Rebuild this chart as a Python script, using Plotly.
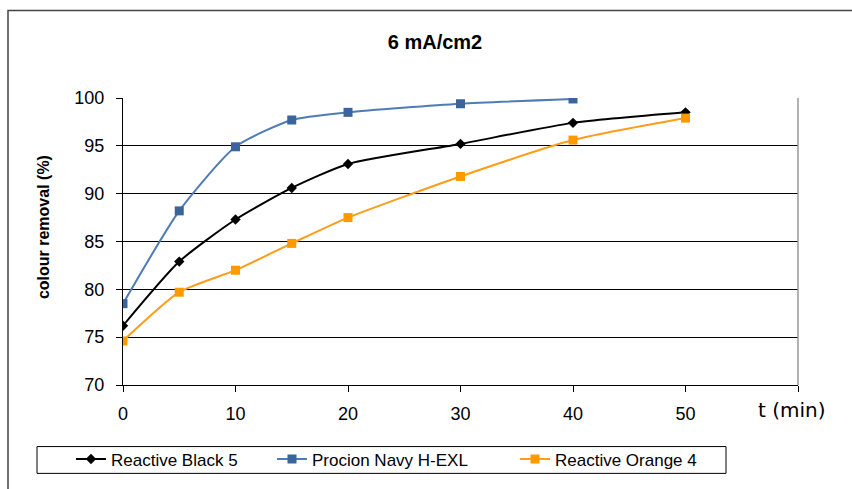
import plotly.graph_objects as go

t_black = [0, 5, 10, 15, 20, 30, 40, 50]
rb5 = [76.2, 82.9, 87.3, 90.6, 93.1, 95.2, 97.4, 98.5]
t_navy = [0, 5, 10, 15, 20, 30, 40]
navy = [78.5, 88.2, 94.9, 97.7, 98.5, 99.4, 99.9]
t_orange = [0, 5, 10, 15, 20, 30, 40, 50]
ro4 = [74.6, 79.7, 82.0, 84.8, 87.5, 91.8, 95.6, 97.9]

x_ticks = [0, 10, 20, 30, 40, 50, 60]
x_labels = ["0", "10", "20", "30", "40", "50", ""]
y_ticks = [70, 75, 80, 85, 90, 95, 100]

FONT = "Liberation Sans, Arial, sans-serif"
W, H = 852, 489
L, R, T, B = 123, 54, 98, 102
pw, ph = W - L - R, H - T - B

def px(x):
    return (x - L) / pw

def py(y):
    return (H - B - y) / ph

fig = go.Figure()
fig.add_trace(go.Scatter(x=t_black, y=rb5, name="Reactive Black 5", mode="lines+markers",
                         legend="legend",
                         line=dict(color="black", width=2, shape="spline", smoothing=0.6),
                         marker=dict(symbol="diamond", size=8, color="black")))
fig.add_trace(go.Scatter(x=t_navy, y=navy, name="Procion Navy H-EXL", mode="lines+markers",
                         legend="legend2",
                         line=dict(color="#4F7CB5", width=2, shape="spline", smoothing=0.6),
                         marker=dict(symbol="square", size=9, color="#3B649B")))
fig.add_trace(go.Scatter(x=t_orange, y=ro4, name="Reactive Orange 4", mode="lines+markers",
                         legend="legend3",
                         line=dict(color="#FF9C1A", width=2, shape="spline", smoothing=0.6),
                         marker=dict(symbol="square", size=9, color="#FF9900")))

def leg(xpix):
    return dict(orientation="h", x=px(xpix), xanchor="left", y=py(462), yanchor="middle",
                font=dict(size=17, family=FONT), bgcolor="rgba(0,0,0,0)", borderwidth=0)

fig.update_layout(
    width=W, height=H,
    margin=dict(l=L, r=R, t=T, b=B),
    paper_bgcolor="white", plot_bgcolor="white",
    font=dict(family=FONT, size=17, color="black"),
    title=dict(text="<b>6 mA/cm2</b>", x=px(435), xref="paper", xanchor="center",
               y=1 - 42 / H, yanchor="middle", font=dict(size=20, family=FONT)),
    showlegend=True,
    legend=leg(71),
    legend2=leg(272),
    legend3=leg(515),
    xaxis=dict(range=[0, 60], tickvals=x_ticks, ticktext=x_labels,
               showgrid=False, zeroline=False, showline=True, linecolor="black", linewidth=1,
               ticks="outside", ticklen=6, tickcolor="black", tickfont=dict(size=18),
               ticklabelstandoff=6),
    yaxis=dict(range=[70, 100], tickvals=y_ticks, showgrid=True, gridcolor="black", gridwidth=1,
               zeroline=False, showline=True, linecolor="black", linewidth=1,
               ticks="outside", ticklen=6, tickcolor="black", tickfont=dict(size=18),
               ticklabelstandoff=8),
    shapes=[
        dict(type="line", xref="paper", yref="paper", x0=1, x1=1, y0=0, y1=1,
             line=dict(color="#999999", width=1.5)),
        dict(type="rect", xref="paper", yref="paper", x0=px(8), x1=px(860), y0=py(10), y1=py(500),
             line=dict(color="#444444", width=1.5), fillcolor="rgba(0,0,0,0)"),
        dict(type="rect", xref="paper", yref="paper", x0=px(37), x1=px(726), y0=py(449), y1=py(476),
             line=dict(color="black", width=1), fillcolor="rgba(0,0,0,0)"),
    ],
    annotations=[
        dict(text="t (min)", xref="paper", yref="paper", x=px(792), y=py(412),
             xanchor="center", yanchor="middle", showarrow=False,
             font=dict(size=20, family="DejaVu Sans, sans-serif")),
        dict(text="<b>colour removal (%)</b>", xref="paper", yref="paper", x=px(43), y=py(228),
             xanchor="center", yanchor="middle", showarrow=False, textangle=-90,
             font=dict(size=16, family=FONT)),
    ],
)

fig.write_html("out.html")
